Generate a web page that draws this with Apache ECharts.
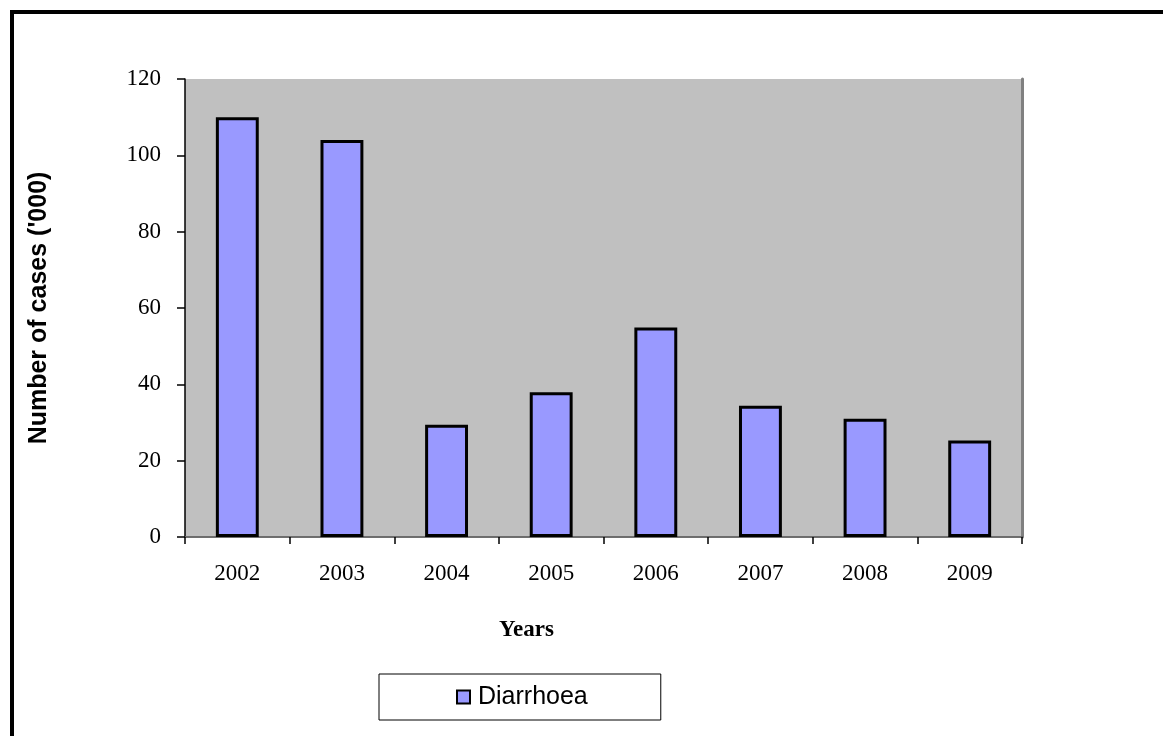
<!DOCTYPE html>
<html>
<head>
<meta charset="utf-8">
<script src="https://cdn.jsdelivr.net/npm/echarts@6/dist/echarts.min.js"></script>
<style>
  html, body { margin: 0; padding: 0; background: #fff; }
  #chart { width: 1163px; height: 736px; }
</style>
</head>
<body>
<div id="chart"></div>
<script>
const years = ['2002', '2003', '2004', '2005', '2006', '2007', '2008', '2009']
const diarrhoea = [110, 104, 29.4, 37.9, 54.9, 34.4, 31, 25.3]
const yTicks = { min: 0, max: 120, interval: 20 }

const serif = '"Liberation Serif", "Times New Roman", serif'
const sans = '"Liberation Sans", Arial, sans-serif'

const chart = echarts.init(document.getElementById('chart'))

chart.setOption({
    animation: false,
    backgroundColor: '#fff',
    graphic: [
        {
            // outer frame, cut off on the right and bottom
            type: 'rect',
            shape: { x: 12, y: 12, width: 1300, height: 900 },
            style: { fill: 'none', stroke: '#000', lineWidth: 4 },
            silent: true
        }
    ],
    title: {
        text: 'Years',
        left: 494,
        top: 614,
        textStyle: { fontFamily: serif, fontSize: 23, fontWeight: 'bold', color: '#000' }
    },
    legend: {
        data: ['Diarrhoea'],
        left: 379,
        top: 674,
        padding: [10, 73, 10, 77],
        borderColor: '#000',
        borderWidth: 1,
        backgroundColor: '#fff',
        itemWidth: 13,
        itemHeight: 13,
        icon: 'rect',
        itemStyle: { borderColor: '#000', borderWidth: 2 },
        textStyle: { fontFamily: sans, fontSize: 25, color: '#000', padding: [0, 0, 0, 3], lineHeight: 26 }
    },
    grid: {
        left: 185,
        top: 79,
        right: 141,
        bottom: 199,
        show: true,
        backgroundColor: '#c0c0c0',
        borderWidth: 0
    },
    xAxis: [
        {
            type: 'category',
            data: years,
            boundaryGap: true,
            axisLine: { lineStyle: { color: '#000', width: 1.5 } },
            axisTick: { show: true, length: 7, lineStyle: { color: '#000', width: 1.5 } },
            axisLabel: { margin: 25, fontFamily: serif, fontSize: 23, color: '#000' }
        },
        {
            // top edge of plot area
            type: 'category',
            data: years,
            position: 'top',
            axisLine: { lineStyle: { color: '#808080', width: 1.5 } },
            axisTick: { show: false },
            axisLabel: { show: false }
        }
    ],
    yAxis: [
        {
            type: 'value',
            min: yTicks.min,
            max: yTicks.max,
            interval: yTicks.interval,
            name: "Number of cases ('000)",
            nameLocation: 'middle',
            nameGap: 133,
            nameTextStyle: { fontFamily: sans, fontSize: 25, fontWeight: 'bold', color: '#000' },
            splitLine: { show: false },
            axisLine: { show: true, lineStyle: { color: '#000', width: 1.5 } },
            axisTick: { show: true, length: 8, lineStyle: { color: '#000', width: 1.5 } },
            axisLabel: { margin: 24, fontFamily: serif, fontSize: 23, color: '#000' }
        },
        {
            // right shadow edge of plot area
            type: 'value',
            position: 'right',
            min: yTicks.min,
            max: yTicks.max,
            interval: yTicks.interval,
            splitLine: { show: false },
            axisLine: { show: true, lineStyle: { color: '#808080', width: 3 } },
            axisTick: { show: false },
            axisLabel: { show: false }
        }
    ],
    series: [
        {
            name: 'Diarrhoea',
            type: 'bar',
            data: diarrhoea,
            barWidth: '41%',
            z: 3,
            itemStyle: {
                color: '#9999ff',
                borderColor: '#000',
                borderWidth: 3
            }
        }
    ]
})
</script>
</body>
</html>
